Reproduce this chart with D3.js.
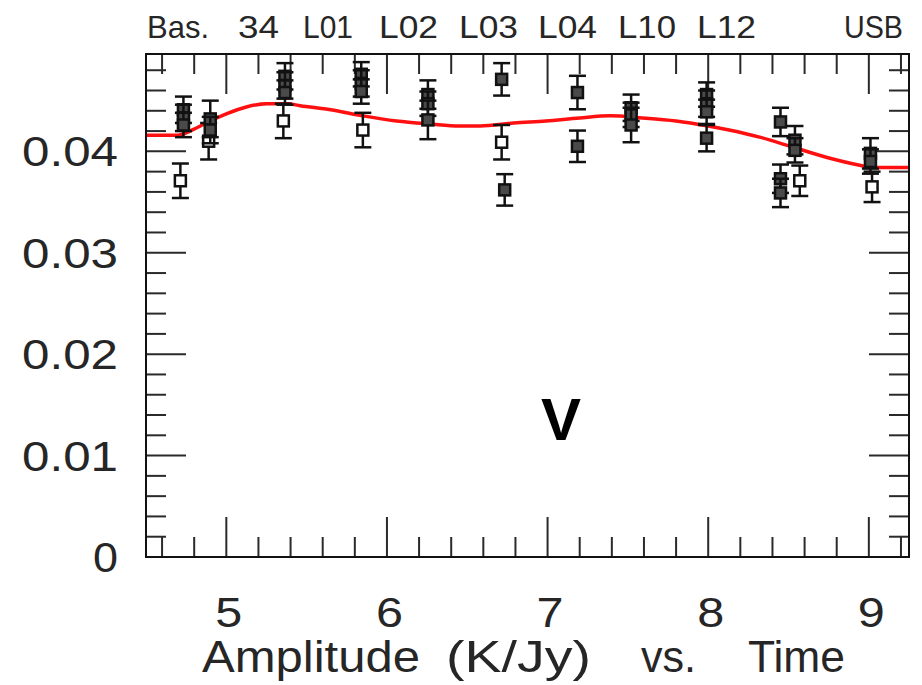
<!DOCTYPE html>
<html>
<head>
<meta charset="utf-8">
<script src="https://cdn.jsdelivr.net/npm/d3@7"></script>
<style>
  html, body { margin: 0; padding: 0; background: #fff; }
  svg { display: block; }
  text { font-family: "Liberation Sans", Arial, Helvetica, sans-serif; fill: #262626; }
</style>
</head>
<body>
<svg id="chart" width="922" height="685"></svg>
<script>
// Baseline labels along the top edge
const baselineLabels = ["Bas.", "34", "L01", "L02", "L03", "L04", "L10", "L12", "USB"];
const baselineX      = [147, 238, 303, 379, 459, 538, 618, 697, 844];
const baselineW      = [62, 41, 50, 59, 59, 59, 58, 59, 59];

// Axis ticks
const xTickValues = [5, 6, 7, 8, 9];
const yTickValues = [0, 0.01, 0.02, 0.03, 0.04];
const yTickLabels = ["0", "0.01", "0.02", "0.03", "0.04"];

// Open-square measurements: time, amplitude, error
const openTime = [4.714, 4.89, 5.355, 5.85, 6.714, 8.57, 9.02];
const openAmp  = [0.0371, 0.0410, 0.0430, 0.0421, 0.0409, 0.0371, 0.0365];
const openErr  = [0.0017, 0.0018, 0.0017, 0.0017, 0.0017, 0.0015, 0.0015];

// Filled-square measurements: time, amplitude, error
const fillTime = [4.733, 4.733, 4.733, 4.90, 4.90, 5.365, 5.365, 5.365,
                  5.84, 5.84, 5.84, 6.255, 6.255, 6.255, 6.714, 6.733,
                  7.186, 7.186, 7.52, 7.52, 7.52, 7.99, 7.99, 7.99, 7.99,
                  8.45, 8.45, 8.45, 8.54, 8.54, 9.01, 9.01];
const fillAmp  = [0.0441, 0.0433, 0.0426, 0.0432, 0.0421, 0.0474, 0.0465, 0.0458,
                  0.0476, 0.0467, 0.0459, 0.0456, 0.0447, 0.0431, 0.0471, 0.0362,
                  0.0458, 0.0405, 0.0443, 0.0436, 0.0426, 0.0456, 0.0447, 0.0439, 0.0413,
                  0.0429, 0.0373, 0.0359, 0.0411, 0.0401, 0.0398, 0.0390];
const fillErr  = [0.0013, 0.0013, 0.0012, 0.0018, 0.0013, 0.0013, 0.0013, 0.0012,
                  0.0012, 0.0013, 0.0012, 0.0014, 0.0012, 0.0019, 0.0016, 0.00155,
                  0.00165, 0.00155, 0.0013, 0.0012, 0.0017, 0.0012, 0.0013, 0.0012, 0.0013,
                  0.0014, 0.0014, 0.0014, 0.0014, 0.0012, 0.0015, 0.0012];

// Fitted gain curve
const curveTime = [4.50, 4.70, 4.80, 4.90, 5.00, 5.13, 5.25, 5.38, 5.46, 5.65, 5.85,
                   6.06, 6.27, 6.45, 6.58, 6.79, 6.99, 7.20, 7.39, 7.59, 7.80,
                   8.00, 8.13, 8.32, 8.53, 8.74, 8.95, 9.01, 9.25];
const curveAmp  = [0.0416, 0.0416, 0.0422, 0.0430, 0.0437, 0.0444, 0.0447, 0.0447, 0.0445,
                   0.0441, 0.0435, 0.0430, 0.0427, 0.0425, 0.0425, 0.0428, 0.0430, 0.0433,
                   0.0435, 0.0433, 0.0430, 0.0425, 0.0421, 0.0414, 0.0404, 0.0394, 0.0386,
                   0.0384, 0.0384];

const svg = d3.select("#chart");
const plotL = 146, plotR = 909, plotT = 54, plotB = 557;

const x = d3.scaleLinear().domain([4.5, 9.25]).range([plotL, plotR]);
const y = d3.scaleLinear().domain([0, 0.0496]).range([plotB, plotT]);

// Tick marks on all four sides: minor every 0.2 h / 0.002, major every 1 h / 0.01
const xMinor = d3.range(23, 47).map(k => k / 5).filter(d => d > 4.5 && d < 9.25);
const yMinor = d3.range(1, 25).map(k => k * 0.002).filter(d => d < 0.0496);
const isMajorX = d => Math.abs(d - Math.round(d)) < 1e-6;
const isMajorY = d => Math.abs(d * 100 - Math.round(d * 100)) < 1e-6;

const ticks = svg.append("g").attr("stroke", "#2a2a2a").attr("stroke-width", 2);
xMinor.forEach(d => {
  const L = isMajorX(d) ? 40 : 20;
  ticks.append("line").attr("x1", x(d)).attr("x2", x(d)).attr("y1", plotB).attr("y2", plotB - L);
  ticks.append("line").attr("x1", x(d)).attr("x2", x(d)).attr("y1", plotT).attr("y2", plotT + L);
});
yMinor.forEach(d => {
  const L = isMajorY(d) ? 40 : 20;
  ticks.append("line").attr("y1", y(d)).attr("y2", y(d)).attr("x1", plotL).attr("x2", plotL + L);
  ticks.append("line").attr("y1", y(d)).attr("y2", y(d)).attr("x1", plotR).attr("x2", plotR - L);
});

// Fitted curve (drawn beneath the data)
const line = d3.line().x((d, i) => x(curveTime[i])).y(d => y(d)).curve(d3.curveMonotoneX);
svg.append("path").datum(curveAmp)
  .attr("d", line)
  .attr("fill", "none")
  .attr("stroke", "#ff1010")
  .attr("stroke-width", 3.5);

// Error bars and squares
function drawSeries(times, amps, errs, fillColor) {
  const g = svg.append("g");
  const data = times.map((t, i) => ({ t, a: amps[i], e: errs[i] }));
  const pts = g.selectAll("g.pt").data(data).join("g").attr("class", "pt")
    .attr("stroke", "#111").attr("stroke-width", 2.5);
  pts.append("line")
    .attr("x1", d => x(d.t)).attr("x2", d => x(d.t))
    .attr("y1", d => y(d.a + d.e)).attr("y2", d => y(d.a - d.e));
  pts.append("line")
    .attr("x1", d => x(d.t) - 8.5).attr("x2", d => x(d.t) + 8.5)
    .attr("y1", d => y(d.a + d.e)).attr("y2", d => y(d.a + d.e));
  pts.append("line")
    .attr("x1", d => x(d.t) - 8.5).attr("x2", d => x(d.t) + 8.5)
    .attr("y1", d => y(d.a - d.e)).attr("y2", d => y(d.a - d.e));
  pts.append("rect")
    .attr("x", d => x(d.t) - 5.5).attr("y", d => y(d.a) - 5.5)
    .attr("width", 11).attr("height", 11)
    .attr("fill", fillColor);
}
drawSeries(openTime, openAmp, openErr, "#fff");
drawSeries(fillTime, fillAmp, fillErr, "#4a4a4a");

// Frame
svg.append("rect")
  .attr("x", plotL).attr("y", plotT)
  .attr("width", plotR - plotL).attr("height", plotB - plotT)
  .attr("fill", "none").attr("stroke", "#111").attr("stroke-width", 2);

// Baseline labels
svg.append("g").selectAll("text").data(baselineLabels).join("text")
  .attr("x", (d, i) => baselineX[i]).attr("y", 38)
  .attr("font-size", 32)
  .attr("textLength", (d, i) => baselineW[i])
  .attr("lengthAdjust", "spacingAndGlyphs")
  .text(d => d);

// Y tick labels
svg.append("g").selectAll("text").data(yTickValues).join("text")
  .attr("x", (d, i) => 118 - (i === 0 ? 25 : 96))
  .attr("y", d => y(d) + 15)
  .attr("font-size", 42)
  .attr("textLength", (d, i) => i === 0 ? 25 : 96)
  .attr("lengthAdjust", "spacingAndGlyphs")
  .text((d, i) => yTickLabels[i]);

// X tick labels
svg.append("g").selectAll("text").data(xTickValues).join("text")
  .attr("x", d => x(d) + 2 - 13)
  .attr("y", 627)
  .attr("font-size", 42)
  .attr("textLength", 27)
  .attr("lengthAdjust", "spacingAndGlyphs")
  .text(d => d);

// Axis title
const titleParts = [["Amplitude", 202, 218], ["(K/Jy)", 446, 145], ["vs.", 641, 55], ["Time", 748, 97]];
svg.append("g").selectAll("text").data(titleParts).join("text")
  .attr("x", d => d[1]).attr("y", 672)
  .attr("font-size", 44)
  .attr("textLength", d => d[2])
  .attr("lengthAdjust", "spacingAndGlyphs")
  .text(d => d[0]);

// Polarization marker
svg.append("text")
  .attr("x", 561).attr("y", 440)
  .attr("text-anchor", "middle")
  .attr("font-size", 60)
  .attr("font-weight", "bold")
  .style("fill", "#000")
  .text("V");
</script>
</body>
</html>
